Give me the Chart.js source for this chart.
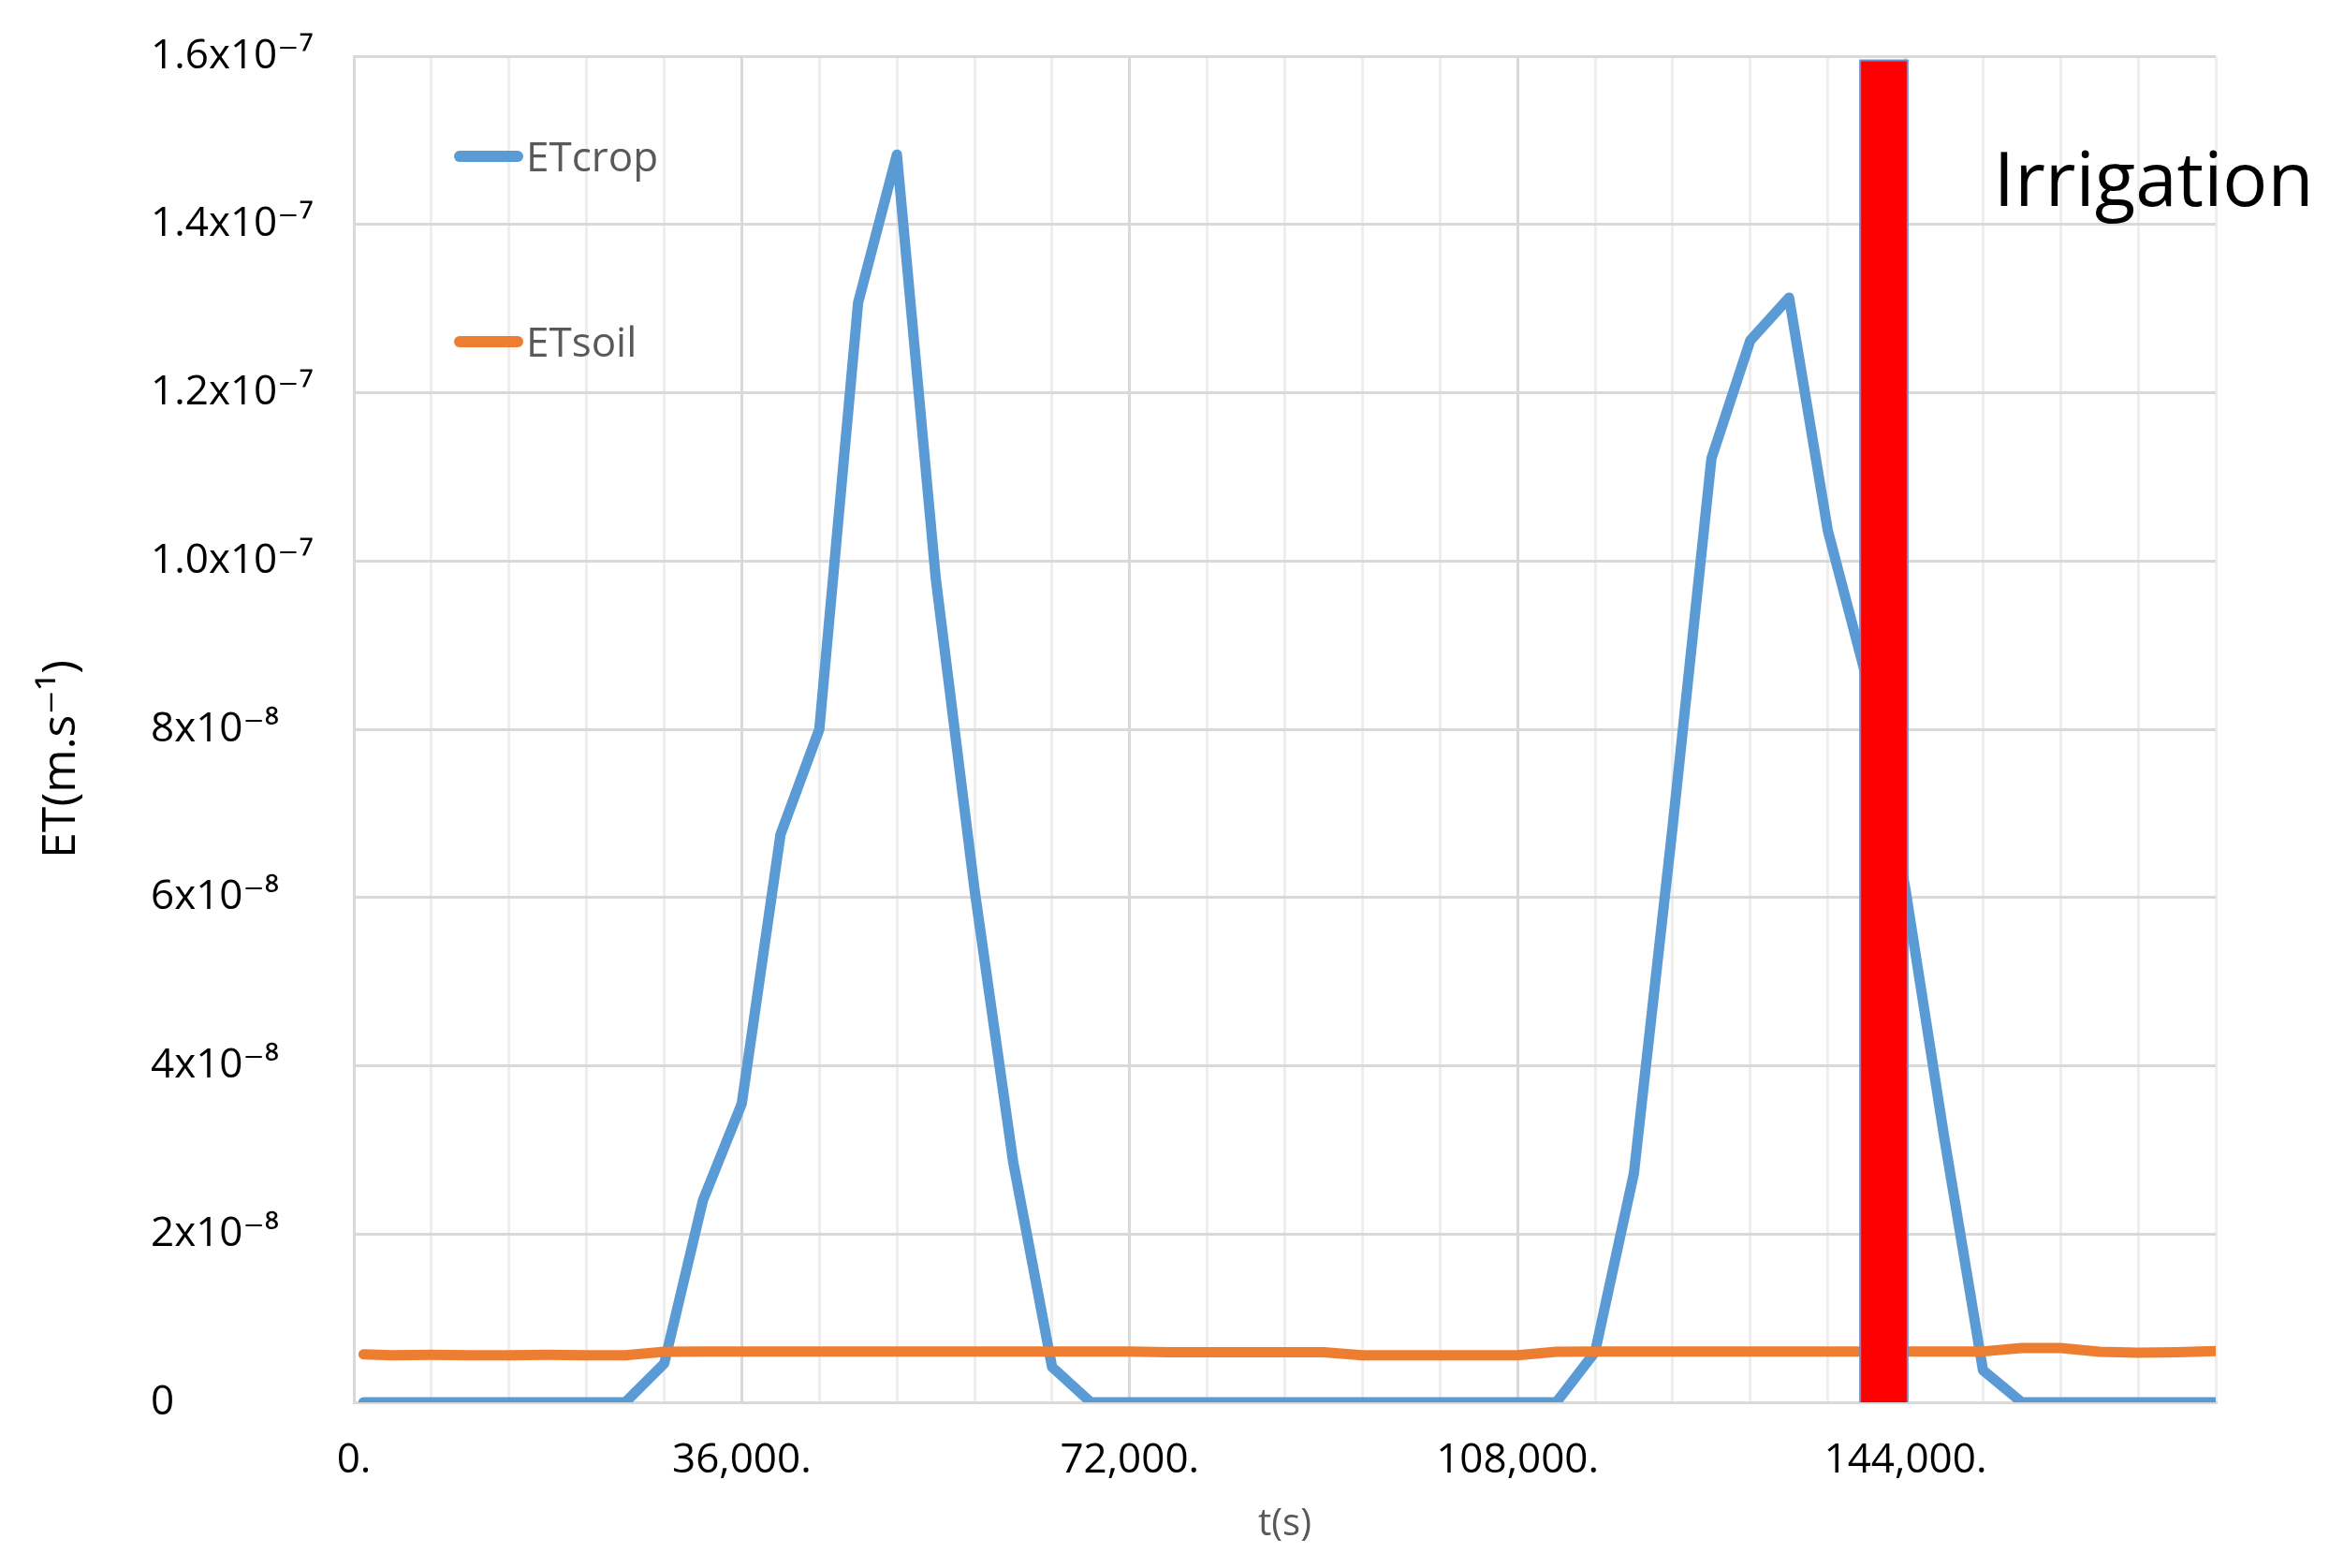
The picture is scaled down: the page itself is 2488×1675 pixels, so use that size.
<!DOCTYPE html>
<html>
<head>
<meta charset="utf-8">
<script src="https://cdn.jsdelivr.net/npm/chart.js@4.4.1/dist/chart.umd.min.js"></script>
<style>
html,body{margin:0;padding:0;background:#ffffff;}
#wrap{width:2488px;height:1675px;position:relative;}
</style>
</head>
<body>
<div id="wrap"><canvas id="c"></canvas></div>
<script>
// ---- data ----
const timeSeconds = [900,3600,7200,10800,14400,18000,21600,25200,28800,32400,36000,39600,43200,46800,50400,54000,57600,61200,64800,68400,72000,75600,79200,82800,86400,90000,93600,97200,100800,104400,108000,111600,115200,118800,122400,126000,129600,133200,136800,140400,144000,147600,151200,154800,158400,162000,165600,169200,172800];
const etCrop = [0,0,0,0,0,0,0,0,4.6e-9,2.4e-8,3.55e-8,6.75e-8,8.0e-8,1.307e-7,1.483e-7,9.8e-8,6.1e-8,2.85e-8,4.2e-9,0,0,0,0,0,0,0,0,0,0,0,0,0,6.0e-9,2.72e-8,6.85e-8,1.122e-7,1.262e-7,1.313e-7,1.036e-7,8.6e-8,6.1e-8,3.15e-8,3.8e-9,0,0,0,0,0,0];
const etSoil = [5.7e-9,5.6e-9,5.65e-9,5.6e-9,5.6e-9,5.65e-9,5.6e-9,5.6e-9,6.0e-9,6.05e-9,6.05e-9,6.05e-9,6.05e-9,6.05e-9,6.05e-9,6.05e-9,6.05e-9,6.05e-9,6.05e-9,6.05e-9,6.05e-9,5.95e-9,5.95e-9,5.95e-9,5.95e-9,5.95e-9,5.6e-9,5.6e-9,5.6e-9,5.6e-9,5.6e-9,6.0e-9,6.05e-9,6.05e-9,6.05e-9,6.05e-9,6.05e-9,6.05e-9,6.05e-9,6.05e-9,6.05e-9,6.05e-9,6.05e-9,6.45e-9,6.45e-9,6.0e-9,5.9e-9,5.95e-9,6.1e-9];
const seriesNames = ["ETcrop", "ETsoil"];
const irrigationStart = 139800;
const irrigationEnd = 144200;
const irrigationTop = 1.595e-7;
const annotationText = "Irrigation";
const xTickValues = [0, 36000, 72000, 108000, 144000];
const xTickLabels = ["0.", "36,000.", "72,000.", "108,000.", "144,000."];
const yTickLabels = ["0", "2x10⁻⁸", "4x10⁻⁸", "6x10⁻⁸", "8x10⁻⁸", "1.0x10⁻⁷", "1.2x10⁻⁷", "1.4x10⁻⁷", "1.6x10⁻⁷"];
const xTitle = "t(s)";
const yTitle = "ET(m.s⁻¹)";

const FONT = "'Open Sans', 'DejaVu Sans', sans-serif";
const BLUE = "#5B9BD5";
const ORANGE = "#ED7D31";

const cropPts = timeSeconds.map((t, i) => ({x: t, y: etCrop[i]}));
const soilPts = timeSeconds.map((t, i) => ({x: t, y: etSoil[i]}));
const irrigationPts = [
  {x: irrigationStart, y: 0},
  {x: irrigationStart, y: irrigationTop},
  {x: irrigationEnd, y: irrigationTop},
  {x: irrigationEnd, y: 0}
];

const overlay = {
  id: 'overlay',
  afterDatasetsDraw(chart) {
    const ctx = chart.ctx, a = chart.chartArea;
    ctx.save();
    // legend (inside the plot, stacked)
    const rows = [{ds: 0, y: a.top + 107}, {ds: 1, y: a.top + 305}];
    rows.forEach(r => {
      const d = chart.data.datasets[r.ds];
      ctx.strokeStyle = d.borderColor;
      ctx.lineWidth = 12;
      ctx.lineCap = 'round';
      ctx.beginPath();
      ctx.moveTo(a.left + 113, r.y);
      ctx.lineTo(a.left + 175, r.y);
      ctx.stroke();
      ctx.fillStyle = '#595959';
      ctx.font = "44px " + FONT;
      ctx.textAlign = 'left';
      ctx.textBaseline = 'alphabetic';
      ctx.fillText(d.label, a.left + 184, r.y + 16);
    });
    ctx.restore();
  },
  afterDraw(chart) {
    const ctx = chart.ctx, a = chart.chartArea;
    ctx.save();
    // y-axis title
    ctx.translate(66, 811);
    ctx.rotate(-Math.PI / 2);
    ctx.fillStyle = '#000000';
    ctx.font = "50px " + FONT;
    ctx.textAlign = 'center';
    ctx.textBaseline = 'middle';
    ctx.fillText(yTitle, 0, 0);
    ctx.restore();
    // annotation text
    ctx.save();
    const xs = chart.scales.x;
    ctx.fillStyle = '#000000';
    ctx.font = "80px " + FONT;
    ctx.textAlign = 'left';
    ctx.textBaseline = 'alphabetic';
    ctx.fillText(annotationText, xs.getPixelForValue(irrigationEnd) + 92, a.top + 160);
    ctx.restore();
  }
};

new Chart(document.getElementById('c'), {
  type: 'line',
  data: {
    datasets: [
      {label: seriesNames[0], data: cropPts, borderColor: BLUE, backgroundColor: BLUE, borderWidth: 11,
       pointRadius: 0, tension: 0, borderCapStyle: 'round', borderJoinStyle: 'round', fill: false, order: 2},
      {label: seriesNames[1], data: soilPts, borderColor: ORANGE, backgroundColor: ORANGE, borderWidth: 11,
       pointRadius: 0, tension: 0, borderCapStyle: 'round', borderJoinStyle: 'round', fill: false, order: 1},
      {label: annotationText, data: irrigationPts, borderColor: '#6a8ec8', backgroundColor: '#FF0000', borderWidth: 2,
       pointRadius: 0, tension: 0, fill: 'origin', order: 0}
    ]
  },
  options: {
    responsive: true,
    maintainAspectRatio: false,
    animation: false,
    devicePixelRatio: 1,
    events: [],
    layout: {padding: {top: 60, right: 121, left: 161, bottom: 0}},
    plugins: {legend: {display: false}, tooltip: {enabled: false}},
    scales: {
      x: {
        type: 'linear', min: 0, max: 172800,
        afterFit(s) { s.height = 177; },
        ticks: {
          stepSize: 7200, autoSkip: false, maxRotation: 0, padding: 36,
          color: '#000000', font: {family: FONT, size: 44},
          callback(v) { const i = xTickValues.indexOf(v); return i >= 0 ? xTickLabels[i] : ''; }
        },
        grid: {
          drawTicks: false, lineWidth: 3,
          color(c) { return (c.tick && c.tick.value % 36000 === 0) ? '#d9d9d9' : '#eeeeee'; }
        },
        border: {color: '#d9d9d9', width: 3},
        title: {display: true, text: xTitle, color: '#595959', font: {family: FONT, size: 40}, padding: {top: 0, bottom: 22}}
      },
      y: {
        type: 'linear', min: 0, max: 1.6e-7,
        afterFit(s) { s.width = 217; },
        ticks: {
          stepSize: 2e-8, crossAlign: 'far', padding: 10,
          color: '#000000', font: {family: FONT, size: 44},
          callback(v) { return yTickLabels[Math.round(v / 2e-8)]; }
        },
        grid: {drawTicks: false, lineWidth: 3, color: '#d9d9d9'},
        border: {color: '#d9d9d9', width: 3}
      }
    }
  },
  plugins: [overlay]
});
</script>
</body>
</html>
